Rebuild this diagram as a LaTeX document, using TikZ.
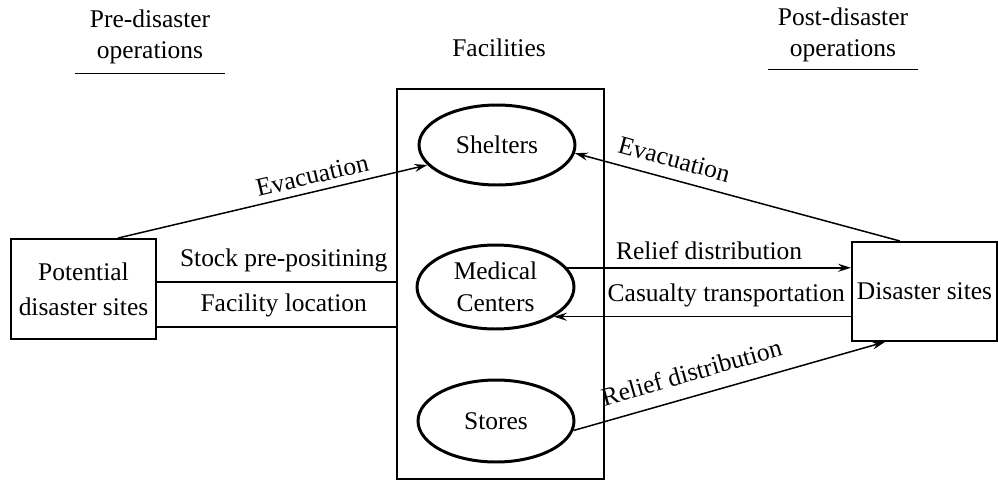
\documentclass[tikz,border=0pt]{standalone}
\usepackage{fontspec}
\setmainfont{Liberation Serif}
\usetikzlibrary{arrows.meta,positioning,shapes.geometric}

\begin{document}
\begin{tikzpicture}[
      x=0.02cm, y=-0.02cm,
      font=\fontsize{14.5}{18}\selectfont,
      site/.style={draw, line width=1.1pt, align=center, inner sep=0pt,
                   minimum width=2.9cm, minimum height=2cm},
      facility/.style={draw, ellipse, line width=1.7pt, align=center, inner sep=0pt,
                   minimum width=3.12cm, minimum height=1.64cm},
      heading/.style={align=center, inner sep=0pt, minimum width=2.98cm},
      flow/.style={-{Stealth[length=2.6mm, width=1.6mm, inset=0.9mm]}, line width=0.85pt},
      backflow/.style={{Stealth[length=2.6mm, width=1.6mm, inset=0.9mm]}-, line width=0.85pt},
      link/.style={line width=0.85pt},
      tag/.style={inner sep=0pt, sloped, above=5pt}]
    \useasboundingbox (0,0) rectangle (998,481);
    \node[heading] (pre) at (150,37) {Pre-disaster\\operations};
    \node[heading] (post) at (843,35) {Post-disaster\\operations};
    \node[inner sep=0pt] (factitle) at (499,48) {Facilities};
    \draw[link] ([yshift=-0.18cm]pre.south west) -- ([yshift=-0.18cm]pre.south east);
    \draw[link] ([yshift=-0.14cm]post.south west) -- ([yshift=-0.14cm]post.south east);
    \node[draw, line width=1.1pt, inner sep=0pt, minimum width=4.14cm, minimum height=7.8cm] (fac) at (500.5,284) {};
    \node[facility, minimum height=1.6cm] (shel) at (497,145) {Shelters};
    \node[facility, minimum width=3.14cm, minimum height=1.68cm] (med) at (495.5,287) {Medical\\Centers};
    \node[facility] (stores) at (496,421) {Stores};
    \node[site, font=\fontsize{14.5}{20}\selectfont] (pot) at (83.5,289) {Potential\\disaster sites};
    \node[site, minimum height=1.98cm] (dis) at (924.5,291.5) {Disaster sites};
    \draw[flow] ([xshift=0.69cm]pot.north) -- node[tag, pos=0.64, above=4pt] {Evacuation} (shel.196);
    \draw[link] ([yshift=0.14cm]pot.east) -- node[tag, pos=0.53] {Stock pre-positining} ([yshift=0.14cm]pot.east -| fac.west);
    \draw[link] ([yshift=-0.76cm]pot.east) -- node[tag, pos=0.53] {Facility location} ([yshift=-0.76cm]pot.east -| fac.west);
    \draw[backflow] (shel.-6) -- node[tag, pos=0.29, above=6pt] {Evacuation} ([xshift=-0.49cm]dis.north);
    \draw[flow] (med.15) -- node[tag, pos=0.5, above=4pt] {Relief distribution} (med.15 -| dis.west);
    \draw[backflow] (med.-27) -- node[tag, pos=0.58] {Casualty transportation} (med.-27 -| dis.west);
    \draw[flow] (stores.-7) -- node[tag, pos=0.4, above=8pt] {Relief distribution} ([xshift=-0.79cm]dis.south);
\end{tikzpicture}
\end{document}
